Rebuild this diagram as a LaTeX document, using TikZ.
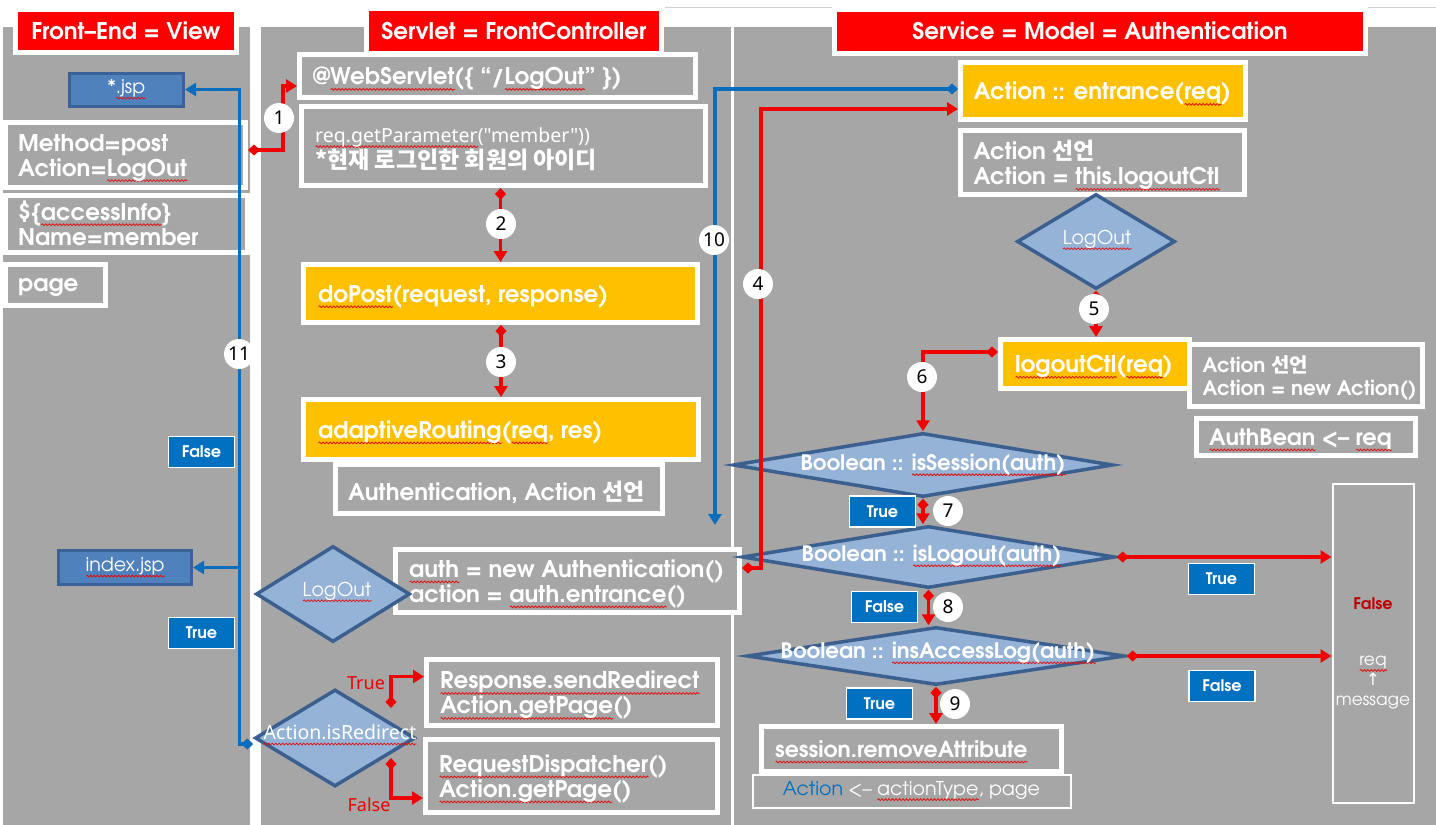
\documentclass[tikz,border=0pt]{standalone}
\usepackage{fontspec}
\setmainfont{TeX Gyre Adventor}
\newfontfamily\kr{Noto Sans CJK KR}
\newfontfamily\nsans{Noto Sans}
\newfontfamily\dvs{DejaVu Sans}
\usetikzlibrary{arrows.meta,shapes.geometric,calc,shadows,decorations.pathmorphing}
\definecolor{bg}{HTML}{A6A6A6}
\definecolor{hdred}{HTML}{FF0000}
\definecolor{yel}{HTML}{FFC000}
\definecolor{jspblue}{HTML}{4F81BD}
\definecolor{jspedge}{HTML}{3A6198}
\definecolor{lblue}{HTML}{0070C0}
\definecolor{diafill}{HTML}{95B3D7}
\definecolor{diaedge}{HTML}{3B5F8E}
\definecolor{rline}{HTML}{F00000}
\definecolor{bline}{HTML}{0A6EBD}
\definecolor{darkred}{HTML}{C00000}
\definecolor{squig}{HTML}{E01010}
\newsavebox\sqbox
\newlength\sqlen
\newcommand\sqw[1]{\sbox\sqbox{#1}\setlength\sqlen{\wd\sqbox}%
 \rlap{\tikz[baseline=0pt]\draw[draw=squig, line width=0.8pt, decorate, decoration={snake, segment length=3.5pt, amplitude=0.9pt}] (0pt,-4.5pt) -- (\sqlen,-4.5pt);}\usebox\sqbox}
\begin{document}
\begin{tikzpicture}[x=1pt,y=-1pt,
 shd/.style={drop shadow={shadow xshift=2.5pt, shadow yshift=-2.5pt, fill=black, opacity=.25}},
 wbox/.style={rectangle, draw=white, line width=5pt, fill=bg, inner sep=0pt, shd},
 ybox/.style={wbox, fill=yel},
 tbox/.style={rectangle, draw=white, line width=2pt, fill=bg, inner sep=0pt},
 hdr/.style={rectangle, draw=white, line width=5pt, fill=hdred, text=white, font=\bfseries\fontsize{23}{27}\selectfont, inner sep=0pt, shd},
 txt/.style={text=white, align=left, inner sep=0pt, anchor=west, yshift=-3pt, font=\bfseries\fontsize{23}{25}\selectfont},
 jsp/.style={rectangle, draw=jspedge, line width=3pt, fill=jspblue, text=white, font=\fontsize{19}{22}\selectfont, inner sep=0pt},
 tag/.style={rectangle, draw=white, line width=1.5pt, fill=lblue, text=white, font=\bfseries\fontsize{16}{18}\selectfont, minimum width=66pt, minimum height=31pt, inner sep=0pt},
 dia/.style={diamond, draw=diaedge, line width=3.5pt, fill=diafill, inner sep=0pt},
 dtxt/.style={text=white, inner sep=0pt, font=\bfseries\fontsize{21.3}{24}\selectfont},
 num/.style={circle, fill=white, minimum size=30pt, inner sep=0pt, text=black, font=\nsans\fontsize{19}{22}\selectfont},
 rarr/.style={draw=rline, line width=3.5pt, {Diamond[length=12pt,width=11pt]}-{Triangle[length=11pt,width=13pt]}},
 barr/.style={draw=bline, line width=3.5pt, {Diamond[length=12pt,width=11pt]}-{Triangle[length=11pt,width=13pt]}},
 bplain/.style={draw=bline, line width=3.5pt, -{Triangle[length=11pt,width=13pt]}},
 rlab/.style={text=rline, inner sep=0pt, font=\nsans\fontsize{18}{22}\selectfont}
]
\useasboundingbox (0,0) rectangle (1436,825);
% background
\fill[white] (0,0) rectangle (1436,825);
\draw[black!18, line width=1pt] (665,7) -- (1436,7);
\fill[bg] (3,27) rectangle (250,825);
\fill[bg] (261,27) rectangle (731,825);
\fill[bg] (734,27) rectangle (1436,825);

% headers
\node[hdr, minimum width=221pt, minimum height=43pt] (h1) at (126,31) {Front–End = View};
\node[hdr, minimum width=295pt, minimum height=45pt] (h2) at (514,31) {Servlet = FrontController};
\node[hdr, minimum width=531pt, minimum height=44pt] (h3) at (1100,31) {Service = Model = Authentication};

% left column
\node[jsp, minimum width=114pt, minimum height=33pt] (jsp1) at (126.5,89.5) {*\sqw{.jsp}};
\node[wbox, minimum width=240pt, minimum height=65pt] (m1) at (125.5,155) {};
\node[txt] (m1t) at ([xshift=15pt]m1.west) {Method=post\\Action=\sqw{LogOut}};
\node[wbox, minimum width=242pt, minimum height=57pt] (a1) at (126.5,224) {};
\node[txt, yshift=4pt] (a1t) at ([xshift=15pt]a1.west) {\$\{\sqw{accessInfo}\}\\Name=member};
\node[wbox, minimum width=100pt, minimum height=41pt] (pg) at (55.5,285) {};
\node[txt] (pgt) at ([xshift=15pt]pg.west) {page};
\node[tag] (tF1) at (201.5,452) {False};
\node[jsp, minimum width=133pt, minimum height=34pt] (jsp2) at (125,567.5) {\sqw{index.jsp}};
\node[tag] (tT1) at (201.5,633) {True};

% middle column
\node[wbox, minimum width=396pt, minimum height=43pt] (ws) at (497.5,76) {};
\node[txt] (wst) at ([xshift=16pt]ws.west) {@\sqw{WebServlet}(\{ “/\sqw{LogOut}” \})};
\node[wbox, minimum width=404pt, minimum height=79pt] (rp) at (503.5,146) {};
\node[txt] (rpt) at ([xshift=16pt]rp.west) {{\nsans\mdseries\fontsize{19.5}{22}\selectfont \sqw{req.getParameter}("member"))}\\{\kr\fontsize{23}{26}\selectfont *현재 로그인한 회원의 아이디}};
\node[ybox, minimum width=394pt, minimum height=58pt] (dp) at (500.5,293.5) {};
\node[txt] (dpt) at ([xshift=17pt]dp.west) {\sqw{doPost}(request, response)};
\node[ybox, minimum width=395pt, minimum height=60pt] (ar) at (501,429.5) {};
\node[txt] (art) at ([xshift=17pt]ar.west) {\sqw{adaptiveRouting}(\sqw{req}, res)};
\node[wbox, minimum width=327pt, minimum height=49pt] (aa) at (499,489) {};
\node[txt] (aat) at ([xshift=15pt]aa.west) {Authentication, Action {\kr 선언}};
\node[wbox, minimum width=344pt, minimum height=63pt] (au) at (567.5,581) {};
\node[txt] (aut) at ([xshift=16pt]au.west) {\sqw{auth} = new Authentication()\\action = \sqw{auth.entrance}()};
\node[dia, minimum width=154pt, minimum height=96pt] (d1) at (333,594) {};
\node[dtxt, font=\fontsize{19}{22}\selectfont] (d1t) at (337,592) {\sqw{LogOut}};
\node[wbox, minimum width=291pt, minimum height=66pt] (rs) at (572,692.5) {};
\node[txt] (rst) at ([xshift=16pt]rs.west) {\sqw{Response.sendRedirect}\\\sqw{Action.getPage}()};
\node[wbox, minimum width=292pt, minimum height=73pt] (rd) at (571.5,776) {};
\node[txt] (rdt) at ([xshift=16pt]rd.west) {\sqw{RequestDispatcher}()\\\sqw{Action.getPage}()};
\node[dia, minimum width=160pt, minimum height=97pt] (d2) at (335,738) {};
\node[dtxt, font=\nsans\fontsize{19.5}{22}\selectfont] (d2t) at (340,735) {\sqw{Action.isRedirect}};
\node[rlab] (lT) at (366,683) {True};
\node[rlab] (lF) at (369,805) {False};

% right column
\node[ybox, minimum width=285pt, minimum height=57pt] (en) at (1103,91) {};
\node[txt] (ent) at ([xshift=15.5pt]en.west) {Action :: entrance(\sqw{req})};
\node[wbox, minimum width=284pt, minimum height=64pt] (ad) at (1102.5,162.5) {};
\node[txt] (adt) at ([xshift=15.5pt]ad.west) {Action {\kr 선언}\\Action = \sqw{this.logoutCtl}};
\node[dia, minimum width=158pt, minimum height=95pt] (d3) at (1096,241.5) {};
\node[dtxt, font=\fontsize{19}{22}\selectfont] (d3t) at (1097,240) {\sqw{LogOut}};
\node[ybox, minimum width=189pt, minimum height=49pt] (lc) at (1095,364) {};
\node[txt] (lct) at ([xshift=17pt]lc.west) {\sqw{logoutCtl}(\sqw{req})};
\node[wbox, minimum width=233pt, minimum height=62pt] (an) at (1306,375.5) {};
\node[txt, font=\bfseries\fontsize{20}{23}\selectfont] (ant) at ([xshift=15.5pt]an.west) {Action {\kr 선언}\\Action = new Action()};
\node[wbox, minimum width=219pt, minimum height=37pt] (ab) at (1306,437) {};
\node[txt, font=\bfseries\fontsize{22.5}{26}\selectfont] (abt) at ([xshift=15pt]ab.west) {\sqw{AuthBean} <– \sqw{req}};
\node[dia, minimum width=380pt, minimum height=64pt] (isS) at (923,465) {};
\node[dtxt] (isSt) at (933,465) {Boolean :: \sqw{isSession(auth)}};
\node[dia, minimum width=373pt, minimum height=62pt] (isL) at (928.5,557) {};
\node[dtxt] (isLt) at (931.5,556) {Boolean :: \sqw{isLogout(auth)}};
\node[dia, minimum width=378pt, minimum height=58pt] (ins) at (936,656) {};
\node[dtxt] (inst) at (938,653) {Boolean :: \sqw{insAccessLog(auth)}};
\node[tag] (tT2) at (882.5,511.5) {True};
\node[tag] (tF2) at (884.5,607) {False};
\node[tag] (tT3) at (879.5,703.5) {True};
\node[tag] (tT4) at (1221.5,579) {True};
\node[tag] (tF3) at (1222,686) {False};
\node[tbox, minimum width=318pt, minimum height=33pt, text=white, font=\fontsize{19}{22}\selectfont] (at) at (911.5,791) {\textcolor{lblue}{Action} <– \sqw{actionType}, page};
\node[wbox, minimum width=300pt, minimum height=45pt] (sr) at (911.5,749) {};
\node[txt, font=\bfseries\fontsize{22}{25}\selectfont] (srt) at ([xshift=16pt]sr.west) {\sqw{session.removeAttribute}};
\node[tbox, minimum width=81pt, minimum height=319pt] (rb) at (1373,643) {};
\node[text=darkred, inner sep=0pt, font=\bfseries\fontsize{16}{18}\selectfont] (rbF) at (1373,604) {False};
\node[text=white, align=center, inner sep=0pt, font=\fontsize{17}{20}\selectfont] (rbm) at (1373,683) {\sqw{req}\\{\dvs ↑}\\message};

% connectors
\coordinate (e10) at (715,525);
\coordinate (b11) at (241,567.5);
\draw[rarr] ([yshift=5pt]m1.east) -- ++(35,0) |- ([yshift=-10pt]ws.west);
\draw[rarr] (dp.north |- rp.south) -- (dp.north);
\draw[rarr] (ar.north |- dp.south) -- (ar.north);
\draw[barr] ([yshift=2pt]en.west) -| (e10);
\draw[rarr] ([yshift=13pt]au.east) -- ++(19,0) |- ([yshift=-18pt]en.west);
\draw[rarr] (d3.south) -- (d3.south |- lc.north);
\draw[rarr] ([yshift=12pt]lc.west) -| (isS.north);
\draw[rarr] (isS.south) -- (isS.south |- isL.north);
\draw[rarr] (isL.south) -- (isL.south |- ins.north);
\draw[rarr] (ins.south) -- (ins.south |- sr.north);
\draw[rarr] (isL.east) -- (isL.east -| rb.west);
\draw[rarr] (ins.east) -- (ins.east -| rb.west);
\draw[rarr] ([shift={(56,-30)}]d2.center) |- ([yshift=16pt]rs.west);
\draw[rarr] ([shift={(56,20)}]d2.center) |- ([yshift=-22pt]rd.west);
\draw[barr] ([yshift=-6pt]d2.west) -- ++(-14,0) |- (jsp1.east);
\draw[bplain] (b11) -- (jsp2.east);

% step numbers
\node[num] (c1) at (279,118) {1};
\node[num] (c2) at (501,224) {2};
\node[num] (c3) at (501,362) {3};
\node[num] (c4) at (758,284) {4};
\node[num] (c5) at (1094,309) {5};
\node[num] (c6) at (922,377) {6};
\node[num] (c7) at (948,511) {7};
\node[num] (c8) at (948,607) {8};
\node[num] (c9) at (955,704) {9};
\node[num] (c10) at (714,240) {10};
\node[num] (c11) at (239,354) {11};
\end{tikzpicture}
\end{document}
